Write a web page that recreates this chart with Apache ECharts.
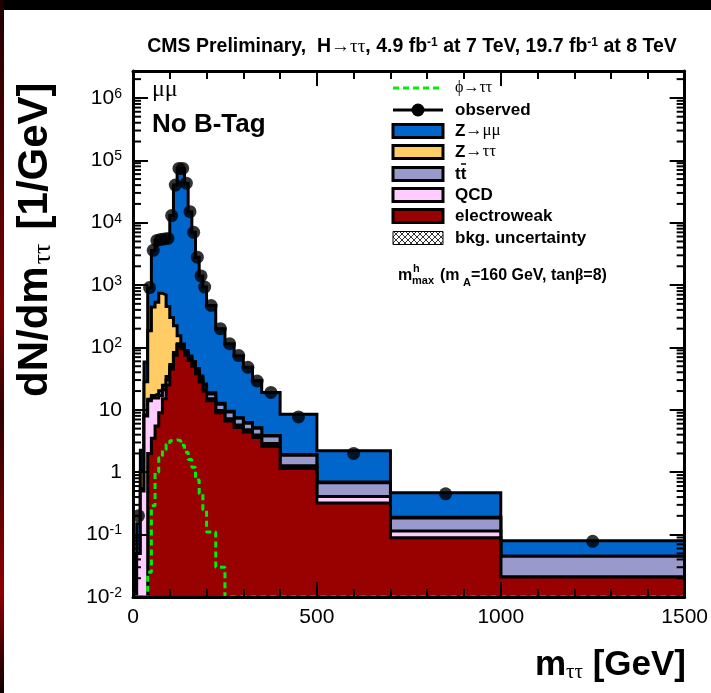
<!DOCTYPE html>
<html>
<head>
<meta charset="utf-8">
<script src="https://cdn.jsdelivr.net/npm/echarts@6/dist/echarts.min.js"></script>
<style>
  html, body { margin: 0; padding: 0; background: #fff; }
  #chart { width: 711px; height: 693px; }
</style>
</head>
<body>
<div id="chart"></div>
<script>
// ─── Data ─────────────────────────────────────────────────────────────────
const binEdges = [0, 10, 20, 30, 40, 50, 60, 70, 80, 90, 100, 110, 120, 130, 140, 150,
  160, 170, 180, 190, 200, 225, 250, 275, 300, 325, 350, 400, 500, 700, 1000, 1500];

// stacked backgrounds, bottom to top
const electroweak = [0, 0, 0, 0, 2.0, 3.5, 5.5, 9, 15, 25, 45, 75, 107, 95, 75, 62,
  50, 38, 28, 20, 14, 9, 6.6, 5.2, 4.4, 3.6, 2.6, 1.15, 0.32, 0.089, 0.021];
const qcd = [0, 0.05, 0.5, 8, 12, 12, 10, 8, 6, 5, 4, 3.5, 3, 2.5, 2.2, 2,
  1.8, 1.6, 1.4, 1.3, 1.0, 0.8, 0.6, 0.5, 0.4, 0.35, 0.3, 0.12, 0.09, 0.025, 0];
const ttbar = [0, 0, 0.05, 0.3, 0.8, 1.5, 2.5, 3.2, 3.8, 4.2, 4.5, 4.6, 4.6, 4.5, 4.4, 4.2,
  4.0, 3.8, 3.6, 3.4, 3.0, 2.5, 2.0, 1.6, 1.3, 1.1, 0.9, 0.6, 0.27, 0.07, 0.024];
const zTauTau = [0, 0, 0.5, 20, 170, 430, 510, 720, 670, 420, 250, 140, 40, 12, 8, 5,
  3.5, 2.5, 1.8, 1.3, 0.8, 0.5, 0.3, 0.2, 0.15, 0.1, 0.08, 0.05, 0.02, 0.005, 0];
const zMuMu = [0, 0.1, 1.2, 30, 725, 3150, 4670, 4760, 4800, 5150, 12700, 39800, 73800, 73900, 42900, 14900,
  6940, 2750, 1365, 904, 450, 187, 105, 66, 42, 24, 15, 6.6, 1.5, 0.28, 0.035];

const signalPhi = [0, 0, 0, 0, 0.025, 0.29, 1.0, 1.7, 2.3, 2.8, 3.2, 3.3, 3.2, 2.7, 2.1, 1.6,
  1.2, 0.75, 0.45, 0.25, 0.11, 0.03, 0, 0, 0, 0, 0, 0, 0, 0, 0];

const observed = [null, 0.2, null, null, 910, 3600, 5200, 5400, 5500, 5600, 13000, 40000, 74000, 74000, 43000, 15000,
  7000, 2800, 1400, 930, 470, 200, 115, 74, 48, 29, 19, 7.7, 2.0, 0.45, 0.078];

const xTickLabels = { 0: '0', 500: '500', 1000: '1000', 1500: '1500' };
const legendLabels = ['Z\u2192\u03bc\u03bc', 'Z\u2192\u03c4\u03c4', 't', 'QCD', 'electroweak', 'bkg. uncertainty'];

// ─── Axis range ───────────────────────────────────────────────────────────
const xMin = 0, xMax = 1500;
const yMin = 0.01, yMax = 2.7e6;

const FONT = '"Liberation Sans", Arial, Helvetica, sans-serif';
const SERIF = '"Liberation Serif", "DejaVu Serif", serif';

// ─── Helpers ──────────────────────────────────────────────────────────────
function stepPoints(vals) {
  const pts = [];
  vals.forEach((v, i) => {
    const y = Math.max(v || 0, yMin);
    pts.push([binEdges[i], y], [binEdges[i + 1], y]);
  });
  return pts;
}

function cumulate(...layers) {
  return layers[0].map((_, i) => layers.reduce((s, l) => s + l[i], 0));
}

const stackLayers = [
  { name: 'Z\u2192\u03bc\u03bc', color: '#0066cc', vals: cumulate(electroweak, qcd, ttbar, zTauTau, zMuMu) },
  { name: 'Z\u2192\u03c4\u03c4', color: '#ffcc66', vals: cumulate(electroweak, qcd, ttbar, zTauTau) },
  { name: 'ttbar', color: '#9999cc', vals: cumulate(electroweak, qcd, ttbar) },
  { name: 'QCD', color: '#ffccff', vals: cumulate(electroweak, qcd) },
  { name: 'electroweak', color: '#990000', vals: electroweak },
];

const obsPoints = observed
  .map((v, i) => v == null ? null : [(binEdges[i] + binEdges[i + 1]) / 2, v])
  .filter(Boolean);

// log-axis minor ticks at 2..9 x 10^k
const minorTickVals = [];
for (let k = -2; k <= 6; k++) {
  for (let m = 2; m <= 9; m++) {
    const v = m * Math.pow(10, k);
    if (v < yMax) minorTickVals.push([0, v]);
  }
}

// cross-hatch pattern for the uncertainty legend box
const hatch = document.createElement('canvas');
hatch.width = hatch.height = 6;
(function () {
  const c = hatch.getContext('2d');
  c.fillStyle = '#fff'; c.fillRect(0, 0, 6, 6);
  c.strokeStyle = '#000'; c.lineWidth = 0.8;
  c.beginPath();
  c.moveTo(0, 0); c.lineTo(6, 6);
  c.moveTo(6, 0); c.lineTo(0, 6);
  c.stroke();
})();

// ─── Chart ────────────────────────────────────────────────────────────────
const chart = echarts.init(document.getElementById('chart'), null, { renderer: 'canvas' });

const tickStyle = { color: '#000', width: 2 };
function xAxisDef(pos, labels) {
  return {
    type: 'value', position: pos, min: xMin, max: xMax, interval: 500, z: 10,
    axisLine: { show: true, onZero: false, lineStyle: { color: '#000', width: 3 } },
    axisTick: { show: true, inside: true, length: 15, lineStyle: tickStyle },
    minorTick: { show: true, splitNumber: 5, length: 8, lineStyle: tickStyle },
    splitLine: { show: false },
    axisLabel: { show: labels, fontSize: 21, color: '#000', fontFamily: FONT, margin: 10,
      formatter: v => xTickLabels[v] ?? '' },
  };
}
function yAxisDef(pos, labels) {
  return {
    type: 'log', logBase: 10, position: pos, min: yMin, max: yMax, splitNumber: 9, z: 10,
    axisLine: { show: true, onZero: false, lineStyle: { color: '#000', width: 3 } },
    axisTick: { show: true, inside: true, length: 15, lineStyle: tickStyle },
    splitLine: { show: false },
    axisLabel: {
      show: labels, color: '#000', fontFamily: FONT, fontSize: 21, margin: 11,
      showMaxLabel: false,
      formatter: v => {
        const l = Math.log10(v), e = Math.round(l);
        if (Math.abs(l - e) > 1e-6) return '';
        if (e === 0) return '1';
        if (e === 1) return '10';
        return '{b|10}{s|' + e + '}';
      },
      rich: {
        b: { fontSize: 21, fontFamily: FONT, color: '#000' },
        s: { fontSize: 14, fontFamily: FONT, color: '#000', verticalAlign: 'top', padding: [0, 0, 8, 0] },
      },
    },
  };
}

const series = [];
stackLayers.forEach((layer, i) => {
  series.push({
    type: 'line', name: layer.name, xAxisIndex: 0, yAxisIndex: 0,
    data: stepPoints(layer.vals), symbol: 'none', z: 2 + i * 0.01,
    lineStyle: { color: '#000', width: 3, join: 'miter' },
    areaStyle: { color: layer.color, opacity: 1, origin: 'start' },
    animation: false, silent: true,
  });
});
series.push({
  type: 'line', name: 'phi', data: stepPoints(signalPhi), symbol: 'none', z: 3,
  lineStyle: { color: '#00ee00', width: 3, type: [6, 4] },
  animation: false, silent: true,
});
series.push({
  type: 'scatter', name: 'observed', data: obsPoints, symbol: 'circle', symbolSize: 13, z: 4,
  itemStyle: { color: '#000' }, animation: false, silent: true,
});
series.push({
  type: 'custom', name: 'minorTicks', data: minorTickVals, z: 11, silent: true, animation: false,
  renderItem: (params, api) => {
    const l = api.coord([xMin, api.value(1)]);
    const r = api.coord([xMax, api.value(1)]);
    return {
      type: 'group', children: [
        { type: 'line', shape: { x1: l[0], y1: l[1], x2: l[0] + 8, y2: l[1] }, style: { stroke: '#000', lineWidth: 2 } },
        { type: 'line', shape: { x1: r[0], y1: r[1], x2: r[0] - 8, y2: r[1] }, style: { stroke: '#000', lineWidth: 2 } },
      ],
    };
  },
});

// ─── Legend, titles, labels (graphics) ────────────────────────────────────
const legX = 393, legW = 50, legH = 13, txtX = 455;
const legY = [88, 110, 131, 152, 174, 195, 216, 238];
const txtStyle = { fontFamily: FONT, fontSize: 17, fontWeight: 'bold', fill: '#000', verticalAlign: 'middle', align: 'left' };
const legendGraphics = [
  { type: 'line', shape: { x1: legX, y1: legY[0], x2: legX + legW, y2: legY[0] }, style: { stroke: '#00ee00', lineWidth: 3, lineDash: [6, 4] } },
  { type: 'text', x: txtX, y: legY[0], style: { ...txtStyle, fontWeight: 'normal', fontFamily: SERIF, fontSize: 16, text: '\u03d5\u2192\u03c4\u03c4' } },
  { type: 'line', shape: { x1: legX, y1: legY[1], x2: legX + legW, y2: legY[1] }, style: { stroke: '#000', lineWidth: 3 } },
  { type: 'circle', shape: { cx: legX + legW / 2, cy: legY[1], r: 6.5 }, style: { fill: '#000' } },
  { type: 'text', x: txtX, y: legY[1], style: { ...txtStyle, text: 'observed' } },
];
stackLayers.forEach((layer, i) => {
  const y = legY[2 + i];
  legendGraphics.push({ type: 'rect', shape: { x: legX, y: y - legH / 2, width: legW, height: legH },
    style: { fill: layer.color, stroke: '#000', lineWidth: 3 } });
  if (i === 2) {
    legendGraphics.push({ type: 'text', x: txtX, y: y, style: { ...txtStyle, text: 'tt' } });
    legendGraphics.push({ type: 'line', shape: { x1: txtX + 6, y1: y - 10, x2: txtX + 11, y2: y - 10 }, style: { stroke: '#000', lineWidth: 1.5 } });
  } else {
    const name = legendLabels[i];
    const m = name.match(/^Z(\u2192.*)$/);
    legendGraphics.push({ type: 'text', x: txtX, y: y, style: m
      ? { ...txtStyle, text: '{a|Z}{g|' + m[1] + '}', rich: { a: { fontFamily: FONT, fontSize: 17, fontWeight: 'bold' }, g: { fontFamily: SERIF, fontSize: 17 } } }
      : { ...txtStyle, text: name } });
  }
});
legendGraphics.push({ type: 'rect', shape: { x: legX, y: legY[7] - legH / 2, width: legW, height: legH },
  style: { fill: { image: hatch, repeat: 'repeat' }, stroke: '#000', lineWidth: 1 } });
legendGraphics.push({ type: 'text', x: txtX, y: legY[7], style: { ...txtStyle, text: legendLabels[5] } });

// m^h_max (m_A=160 GeV, tanβ=8)
const scY = 276;
const scenario = [
  { type: 'text', x: 398, y: scY, style: { ...txtStyle, fontSize: 16, text: 'm' } },
  { type: 'text', x: 413, y: scY - 7, style: { ...txtStyle, fontSize: 11, text: 'h' } },
  { type: 'text', x: 412, y: scY + 5, style: { ...txtStyle, fontSize: 11, text: 'max' } },
  { type: 'text', x: 440, y: scY, style: { ...txtStyle, fontSize: 16, text: '(m' } },
  { type: 'text', x: 463, y: scY + 7, style: { ...txtStyle, fontSize: 11, text: 'A' } },
  { type: 'text', x: 471, y: scY, style: { ...txtStyle, fontSize: 16, text: '=160 GeV, tan{g|\u03b2}=8)',
    rich: { g: { fontFamily: SERIF, fontSize: 16, fontWeight: 'bold' } } } },
];

const graphics = [
  { type: 'rect', shape: { x: 0, y: 0, width: 711, height: 10 }, style: { fill: '#000' }, z: 100 },
  { type: 'rect', shape: { x: 0, y: 0, width: 4, height: 693 },
    style: { fill: new echarts.graphic.LinearGradient(0, 0, 0, 1, [
      { offset: 0, color: '#200000' }, { offset: 0.45, color: '#7a0000' }, { offset: 0.6, color: '#300000' },
      { offset: 0.85, color: '#900000' }, { offset: 1, color: '#100000' }]) }, z: 100 },
  { type: 'text', x: 412, y: 47, z: 100, style: {
      text: 'CMS Preliminary,  H{g|\u2192\u03c4\u03c4}, 4.9 fb{s|-1} at 7 TeV, 19.7 fb{s|-1} at 8 TeV',
      fontFamily: FONT, fontSize: 19.5, fontWeight: 'bold', fill: '#000', align: 'center', verticalAlign: 'middle',
      rich: {
        g: { fontFamily: SERIF, fontSize: 19, fontWeight: 'normal' },
        s: { fontFamily: FONT, fontSize: 12, fontWeight: 'bold', verticalAlign: 'top', padding: [0, 0, 7, 0] },
      } } },
  { type: 'text', x: 152, y: 90, z: 100, style: { text: '\u03bc\u03bc', fontFamily: SERIF, fontSize: 24, fill: '#000', verticalAlign: 'middle' } },
  { type: 'text', x: 152, y: 125, z: 100, style: { text: 'No B-Tag', fontFamily: FONT, fontSize: 26, fontWeight: 'bold', fill: '#000', verticalAlign: 'middle' } },
  { type: 'text', x: 35, y: 397, rotation: Math.PI / 2, z: 100, style: {
      text: '{b|dN/dm}{s|\u03c4\u03c4}{b|[1/GeV]}', align: 'left', verticalAlign: 'middle',
      rich: {
        b: { fontFamily: FONT, fontSize: 42, fontWeight: 'bold', fill: '#000' },
        s: { fontFamily: SERIF, fontSize: 26, fill: '#000', verticalAlign: 'bottom', padding: [12, 14, 0, 2] },
      } } },
  { type: 'text', x: 686, y: 665, z: 100, style: {
      text: '{b|m}{s|\u03c4\u03c4}{b| [GeV]}', align: 'right', verticalAlign: 'middle',
      rich: {
        b: { fontFamily: FONT, fontSize: 35, fontWeight: 'bold', fill: '#000' },
        s: { fontFamily: SERIF, fontSize: 21, fill: '#000', verticalAlign: 'bottom', padding: [10, 0, 0, 0] },
      } } },
  { type: 'group', z: 100, children: legendGraphics.concat(scenario) },
];

chart.setOption({
  backgroundColor: '#fff',
  animation: false,
  grid: { left: 133, right: 25, top: 71, bottom: 96, containLabel: false },
  xAxis: [xAxisDef('bottom', true), xAxisDef('top', false)],
  yAxis: [yAxisDef('left', true), yAxisDef('right', false)],
  series: series,
  graphic: graphics,
});
</script>
</body>
</html>
